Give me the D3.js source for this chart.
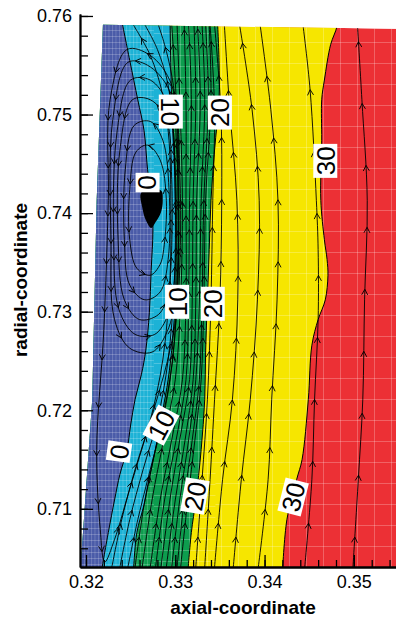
<!DOCTYPE html>
<html>
<head>
<meta charset="utf-8">
<script src="https://cdn.jsdelivr.net/npm/d3@7"></script>
<style>
  body { margin: 0; background: #fff; }
  svg { display: block; font-family: "Liberation Sans", Arial, Helvetica, sans-serif; }
</style>
</head>
<body>
<svg id="chart" width="396" height="620"></svg>
<script>
// ---- data (axial, radial) ----
const xTicks = [0.32, 0.33, 0.34, 0.35];
const yTicks = [0.71, 0.72, 0.73, 0.74, 0.75, 0.76];

// outline of the computational mesh
const meshEdge = [[0.3219, 0.7591], [0.3212, 0.7413], [0.3207, 0.7211], [0.3194, 0.7041],
  [0.3550, 0.7041], [0.3550, 0.7587]];

// contour lines, top to bottom
const level0 = [[0.3239, 0.7600], [0.3249, 0.7555], [0.3258, 0.7515], [0.3265, 0.7484], [0.3269, 0.7444],
  [0.3274, 0.7408], [0.3275, 0.7383], [0.3273, 0.7342], [0.3271, 0.7299], [0.3267, 0.7261], [0.3262, 0.7236],
  [0.3255, 0.7211], [0.3250, 0.7185], [0.3246, 0.7160], [0.3238, 0.7135], [0.3232, 0.7109], [0.3225, 0.7076],
  [0.3217, 0.7035]];
const level10 = [[0.3294, 0.7600], [0.3296, 0.7515], [0.3299, 0.7464], [0.3300, 0.7413], [0.3301, 0.7363],
  [0.3300, 0.7312], [0.3297, 0.7271], [0.3292, 0.7231], [0.3286, 0.7200], [0.3280, 0.7170], [0.3272, 0.7135],
  [0.3265, 0.7104], [0.3257, 0.7076], [0.3253, 0.7035]];
const level20 = [[0.3347, 0.7600], [0.3349, 0.7555], [0.3349, 0.7515], [0.3344, 0.7464], [0.3340, 0.7413],
  [0.3338, 0.7363], [0.3336, 0.7312], [0.3334, 0.7261], [0.3333, 0.7211], [0.3329, 0.7160], [0.3323, 0.7109],
  [0.3318, 0.7076], [0.3314, 0.7035]];
const level30 = [[0.3482, 0.7600], [0.3481, 0.7589], [0.3474, 0.7571], [0.3467, 0.7535], [0.3464, 0.7515],
  [0.3464, 0.7474], [0.3463, 0.7413], [0.3467, 0.7373], [0.3470, 0.7353], [0.3471, 0.7337], [0.3468, 0.7312],
  [0.3460, 0.7292], [0.3453, 0.7266], [0.3449, 0.7211], [0.3442, 0.7150], [0.3436, 0.7130], [0.3425, 0.7089],
  [0.3420, 0.7035]];

// dark core of the recirculation
const vortexCore = [[0.3262, 0.7421], [0.3284, 0.7423], [0.3286, 0.7413], [0.3284, 0.7401], [0.3278, 0.7391],
  [0.3273, 0.7385], [0.3267, 0.7393], [0.3263, 0.7406]];

// contour labels: text, axial, radial
const contourLabels = [["10", 0.3295, 0.7503], ["20", 0.3350, 0.7502], ["0", 0.3269, 0.7431], ["30", 0.3468, 0.7453],
  ["10", 0.3302, 0.7310], ["20", 0.3342, 0.7308], ["0", 0.3237, 0.7158], ["10", 0.3284, 0.7185],
  ["20", 0.3322, 0.7113], ["30", 0.3432, 0.7112]];

// streamlines in flow direction
const upStreams = [
  [[0.3499, 0.7041], [0.3505, 0.7130], [0.3510, 0.7211], [0.3512, 0.7312], [0.3515, 0.7413], [0.3509, 0.7515], [0.3504, 0.7591]],
  [[0.3445, 0.7041], [0.3453, 0.7130], [0.3456, 0.7211], [0.3460, 0.7292], [0.3460, 0.7363], [0.3458, 0.7413], [0.3451, 0.7525], [0.3443, 0.7591]],
  [[0.3393, 0.7041], [0.3404, 0.7130], [0.3408, 0.7211], [0.3414, 0.7312], [0.3415, 0.7413], [0.3407, 0.7505], [0.3395, 0.7591]],
  [[0.3365, 0.7041], [0.3374, 0.7130], [0.3384, 0.7211], [0.3392, 0.7312], [0.3394, 0.7413], [0.3386, 0.7505], [0.3372, 0.7591]],
  [[0.3344, 0.7041], [0.3353, 0.7130], [0.3364, 0.7211], [0.3370, 0.7312], [0.3369, 0.7413], [0.3361, 0.7505], [0.3355, 0.7591]],
  [[0.3333, 0.7041], [0.3339, 0.7130], [0.3344, 0.7211], [0.3350, 0.7312], [0.3352, 0.7413], [0.3351, 0.7505], [0.3344, 0.7591]],
  [[0.3323, 0.7041], [0.3330, 0.7130], [0.3336, 0.7211], [0.3340, 0.7312], [0.3342, 0.7413], [0.3344, 0.7505], [0.3339, 0.7591]],
  [[0.3306, 0.7041], [0.3314, 0.7109], [0.3322, 0.7170], [0.3329, 0.7231], [0.3332, 0.7312], [0.3334, 0.7413], [0.3340, 0.7515], [0.3338, 0.7591]],
  [[0.3302, 0.7041], [0.3310, 0.7109], [0.3319, 0.7170], [0.3327, 0.7231], [0.3330, 0.7312], [0.3332, 0.7413], [0.3337, 0.7515], [0.3334, 0.7591]],
  [[0.3296, 0.7041], [0.3305, 0.7109], [0.3315, 0.7170], [0.3323, 0.7231], [0.3327, 0.7312], [0.3329, 0.7413], [0.3333, 0.7515], [0.3330, 0.7591]],
  [[0.3290, 0.7041], [0.3300, 0.7109], [0.3311, 0.7170], [0.3320, 0.7231], [0.3323, 0.7312], [0.3324, 0.7413], [0.3328, 0.7515], [0.3325, 0.7591]],
  [[0.3284, 0.7041], [0.3294, 0.7109], [0.3305, 0.7170], [0.3316, 0.7231], [0.3319, 0.7312], [0.3320, 0.7413], [0.3323, 0.7515], [0.3321, 0.7591]],
  [[0.3278, 0.7041], [0.3288, 0.7109], [0.3301, 0.7170], [0.3312, 0.7231], [0.3315, 0.7312], [0.3316, 0.7413], [0.3318, 0.7515], [0.3315, 0.7591]],
  [[0.3272, 0.7041], [0.3283, 0.7109], [0.3296, 0.7170], [0.3308, 0.7231], [0.3312, 0.7312], [0.3312, 0.7413], [0.3312, 0.7515], [0.3310, 0.7591]],
  [[0.3263, 0.7041], [0.3274, 0.7109], [0.3287, 0.7170], [0.3300, 0.7231], [0.3306, 0.7312], [0.3308, 0.7413], [0.3305, 0.7515], [0.3302, 0.7591]],
  [[0.3255, 0.7041], [0.3266, 0.7109], [0.3280, 0.7170], [0.3294, 0.7231], [0.3302, 0.7312], [0.3303, 0.7413], [0.3301, 0.7515], [0.3296, 0.7591]],
  [[0.3229, 0.7041], [0.3240, 0.7089], [0.3255, 0.7140], [0.3272, 0.7190], [0.3286, 0.7251], [0.3294, 0.7332], [0.3295, 0.7413], [0.3293, 0.7474], [0.3286, 0.7520], [0.3272, 0.7560], [0.3253, 0.7591]],
  [[0.3238, 0.7041], [0.3249, 0.7089], [0.3264, 0.7140], [0.3280, 0.7190], [0.3292, 0.7251], [0.3299, 0.7332], [0.3300, 0.7413], [0.3297, 0.7484], [0.3292, 0.7530], [0.3280, 0.7566], [0.3266, 0.7591]],
  [[0.3247, 0.7041], [0.3258, 0.7089], [0.3272, 0.7140], [0.3286, 0.7190], [0.3297, 0.7251], [0.3303, 0.7332], [0.3304, 0.7413], [0.3302, 0.7495], [0.3296, 0.7540], [0.3288, 0.7571], [0.3281, 0.7591]]
];

// closed recirculation loops (up on the right, down on the left)
const loopStreams = [
  [[0.3287, 0.7363], [0.3290, 0.7413], [0.3283, 0.7454], [0.3269, 0.7469], [0.3256, 0.7462], [0.3249, 0.7424], [0.3249, 0.7373], [0.3257, 0.7344], [0.3272, 0.7337], [0.3283, 0.7348]],
  [[0.3292, 0.7353], [0.3293, 0.7424], [0.3286, 0.7474], [0.3272, 0.7493], [0.3254, 0.7489], [0.3244, 0.7444], [0.3243, 0.7373], [0.3249, 0.7327], [0.3266, 0.7312], [0.3283, 0.7320]],
  [[0.3295, 0.7342], [0.3296, 0.7434], [0.3290, 0.7495], [0.3272, 0.7515], [0.3252, 0.7515], [0.3238, 0.7464], [0.3236, 0.7373], [0.3243, 0.7312], [0.3260, 0.7292], [0.3281, 0.7297], [0.3292, 0.7317]],
  [[0.3299, 0.7332], [0.3300, 0.7444], [0.3292, 0.7510], [0.3272, 0.7535], [0.3250, 0.7535], [0.3235, 0.7484], [0.3231, 0.7373], [0.3237, 0.7302], [0.3255, 0.7277], [0.3277, 0.7277], [0.3292, 0.7297]],
  [[0.3301, 0.7322], [0.3302, 0.7454], [0.3293, 0.7525], [0.3269, 0.7550], [0.3247, 0.7553], [0.3230, 0.7495], [0.3228, 0.7373], [0.3232, 0.7292], [0.3249, 0.7263], [0.3274, 0.7259], [0.3291, 0.7280]],
  [[0.3303, 0.7312], [0.3305, 0.7444], [0.3296, 0.7530], [0.3272, 0.7560], [0.3246, 0.7566], [0.3227, 0.7515], [0.3225, 0.7413], [0.3220, 0.7282], [0.3212, 0.7160], [0.3216, 0.7079], [0.3221, 0.7046], [0.3232, 0.7069], [0.3247, 0.7114], [0.3264, 0.7165], [0.3281, 0.7216], [0.3294, 0.7261]]
];

const bandColors = ["#4a5ba8", "#1cb2d6", "#0d9d4e", "#f6e600", "#ec3035"];

// ---- scales ----
const svg = d3.select('#chart');
const x = d3.scaleLinear().domain([0.31933, 0.35472]).range([80, 396]);
const y = d3.scaleLinear().domain([0.7041, 0.7602]).range([567, 14]);

const lin = d3.line().x(d => x(d[0])).y(d => y(d[1]));
const smooth = d3.line().x(d => x(d[0])).y(d => y(d[1])).curve(d3.curveCatmullRom);
const smoothClosed = d3.line().x(d => x(d[0])).y(d => y(d[1])).curve(d3.curveCatmullRomClosed);

const defs = svg.append('defs');
defs.append('clipPath').attr('id', 'meshClip').append('path').attr('d', lin(meshEdge) + 'Z');

function meshPattern(id, w, h, op) {
  defs.append('pattern').attr('id', id).attr('patternUnits', 'userSpaceOnUse')
    .attr('width', w).attr('height', h)
    .append('path').attr('d', `M0.5,0V${h}M0,0.5H${w}`)
    .attr('stroke', '#fff').attr('stroke-opacity', op).attr('stroke-width', 0.8).attr('fill', 'none');
}
meshPattern('meshFine', 3.5, 6, 0.24);
meshPattern('meshMid', 9, 11, 0.28);
meshPattern('meshCoarse', 17, 21, 0.3);

const field = svg.append('g').attr('clip-path', 'url(#meshClip)');

// bands: fill whole mesh with top band, then paint lower bands left of each level
field.append('path').attr('d', lin(meshEdge) + 'Z').attr('fill', bandColors[4]);
const levelLines = [level0, level10, level20, level30];
for (let i = 3; i >= 0; i--) {
  const pts = levelLines[i];
  const last = pts[pts.length - 1], first = pts[0];
  const d = smooth(pts) + `L${x(0.30)},${y(last[1])}L${x(0.30)},${y(first[1])}Z`;
  field.append('path').attr('d', d).attr('fill', bandColors[i]);
}

// mesh texture
field.append('rect').attr('x', 70).attr('y', 0).attr('width', x(0.3276) - 70).attr('height', 600).attr('fill', 'url(#meshFine)');
field.append('rect').attr('x', x(0.3276)).attr('y', 0).attr('width', x(0.3345) - x(0.3276)).attr('height', 600).attr('fill', 'url(#meshMid)');
field.append('rect').attr('x', x(0.3345)).attr('y', 0).attr('width', 400 - x(0.3345)).attr('height', 600).attr('fill', 'url(#meshCoarse)');

// contour lines
levelLines.forEach(pts => {
  field.append('path').attr('d', smooth(pts)).attr('fill', 'none').attr('stroke', '#000').attr('stroke-width', 1);
});

// streamlines
const streams = field.append('g').attr('fill', 'none').attr('stroke', '#000').attr('stroke-width', 0.9);

function addArrows(node, step, offset) {
  const L = node.getTotalLength();
  for (let s = offset; s < L - 4; s += step) {
    const p = node.getPointAtLength(s);
    const q = node.getPointAtLength(Math.min(s + 1, L));
    const a = Math.atan2(q.y - p.y, q.x - p.x) * 180 / Math.PI;
    streams.append('path').attr('d', 'M-5.5,-3L0,0L-5.5,3')
      .attr('transform', `translate(${p.x},${p.y}) rotate(${a})`);
  }
}

upStreams.forEach((pts, i) => {
  const p = streams.append('path').attr('d', smooth(pts));
  addArrows(p.node(), 62, 30 + (i % 3) * 14);
});
loopStreams.forEach((pts, i) => {
  const p = streams.append('path').attr('d', smoothClosed(pts));
  addArrows(p.node(), 48, 12 + (i % 3) * 9);
});

field.append('path').attr('d', smoothClosed(vortexCore)).attr('fill', '#000');

// contour labels
const labelAngles = [90, -90, 90, -90, -90, -90, -82, -62, -80, -76];
const labG = svg.append('g');
contourLabels.forEach((l, i) => {
  const g = labG.append('g').attr('transform', `translate(${x(l[1])},${y(l[2])}) rotate(${labelAngles[i]})`);
  const w = l[0].length * 14.5 + 5;
  g.append('rect').attr('x', -w / 2).attr('y', -12).attr('width', w).attr('height', 24).attr('fill', '#fff');
  g.append('text').attr('text-anchor', 'middle').attr('y', 9.5).attr('font-size', 26).attr('fill', '#000').text(l[0]);
});

// axes
const axG = svg.append('g');
const xMajor = axG.append('g').attr('transform', 'translate(0,567)')
  .call(d3.axisBottom(x).tickValues(xTicks).tickSizeInner(-12).tickSizeOuter(0).tickPadding(8).tickFormat(d3.format('.2f')));
axG.append('g').attr('transform', 'translate(0,567)')
  .call(d3.axisBottom(x).ticks(18).tickSizeInner(-7).tickSizeOuter(0).tickFormat(''));
axG.append('g').attr('transform', 'translate(80,0)')
  .call(d3.axisLeft(y).tickValues(yTicks).tickSizeInner(-13).tickSizeOuter(0).tickPadding(8).tickFormat(d3.format('.2f')));
axG.append('g').attr('transform', 'translate(80,0)')
  .call(d3.axisLeft(y).ticks(28).tickSizeInner(-8).tickSizeOuter(0).tickFormat(''));
axG.selectAll('.domain').attr('stroke', '#000').attr('stroke-width', 1.8);
axG.selectAll('.tick line').attr('stroke', '#000').attr('stroke-width', 1.3);
axG.selectAll('text').attr('font-size', 18).attr('fill', '#000')
  .attr('font-family', '"Liberation Sans", Arial, sans-serif');
xMajor.selectAll('text').attr('dy', '0.71em').attr('y', 8);

// titles
svg.append('text').attr('x', 243).attr('y', 614).attr('text-anchor', 'middle')
  .attr('font-size', 19).attr('font-weight', 'bold').text('axial-coordinate');
svg.append('text').attr('transform', 'translate(27,280) rotate(-90)').attr('text-anchor', 'middle')
  .attr('font-size', 19).attr('font-weight', 'bold').text('radial-coordinate');
</script>
</body>
</html>
